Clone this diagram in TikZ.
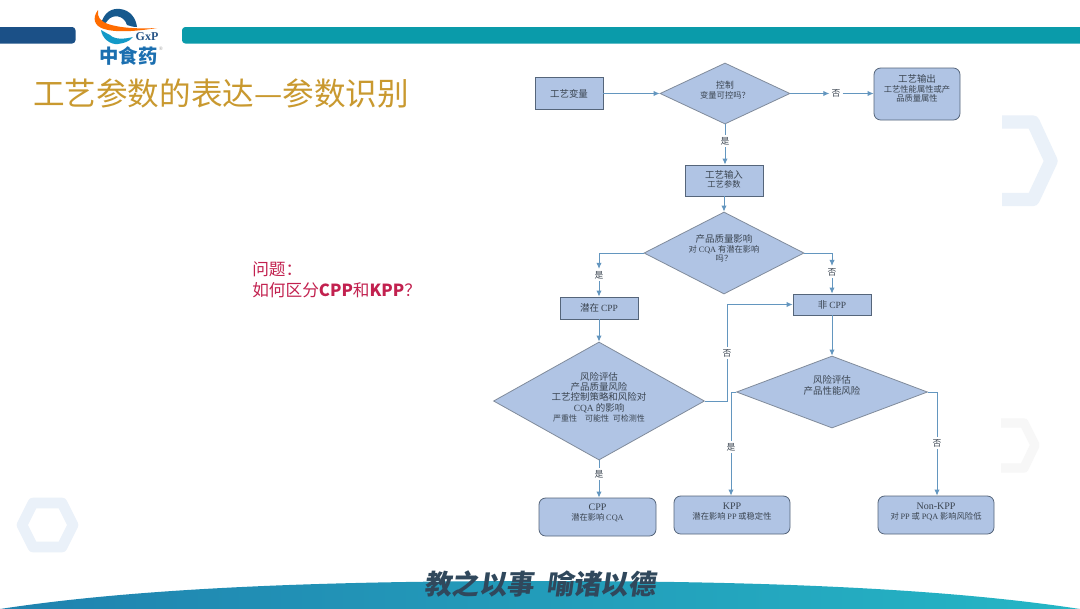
\documentclass[tikz,border=0pt]{standalone}
\usepackage{fontspec}
\setmainfont{Liberation Serif}
\newfontfamily\cjk{Noto Sans CJK SC}
\newfontfamily\cjkslant[FakeSlant=0.14]{Noto Sans CJK SC}
\usetikzlibrary{shapes.geometric,arrows.meta}
\definecolor{boxfill}{HTML}{B0C4E4}
\definecolor{boxline}{HTML}{55657A}
\definecolor{conn}{HTML}{6396BF}
\definecolor{txt}{HTML}{3A4450}
\definecolor{gold}{HTML}{C9992F}
\definecolor{ask}{HTML}{C2214F}
\definecolor{wm}{HTML}{EAF1F9}
\definecolor{logob}{HTML}{1B6FB0}
\def\px{0.75pt}
\newcommand\fsmall{\fontsize{6.2pt}{7.4pt}\selectfont}
\newcommand\flarge{\fontsize{7.1pt}{7.6pt}\selectfont}
\newcommand\latn[1]{{\rmfamily #1}}
\newcommand\liftby[1]{\\[#1]\mbox{}}
\tikzset{
  x=0.75pt,y=-0.75pt,
  base/.style={draw=boxline,fill=boxfill,line width=0.6pt,text=txt,align=center,inner sep=0pt,font=\cjk\fsmall},
  sqbox/.style={base,rectangle},
  rbox/.style={base,rectangle,rounded corners=5pt},
  dec/.style={base,diamond,draw=boxline!75},
  lnk/.style={draw=conn,line width=0.7pt,-{Latex[length=4.5pt,width=4pt]}},
  seg/.style={draw=conn,line width=0.7pt},
  lab/.style={text=txt,inner sep=1.5pt,fill=white,font=\cjk\fontsize{6.6pt}{7.5pt}\selectfont},
}
\begin{document}
\begin{tikzpicture}
\useasboundingbox (0,0) rectangle (1080,608);
\fill[white] (0,0) rectangle (1080,608);
% watermarks
\draw[wm,line width=10pt,line join=round] (1002,122) -- (1033,122) -- (1051,161) -- (1033,199.5) -- (1002,199.5);
\draw[black!3,line width=7pt,line join=round] (1001,423) -- (1024,423) -- (1035,445) -- (1024,468) -- (1001,468);
\draw[wm,line width=8pt,line join=round] (33,503) -- (62,503) -- (73,525) -- (62,547) -- (33,547) -- (22,525) -- cycle;
% header bars
\fill[fill={rgb,255:red,27;green,80;blue,135},rounded corners=2.5pt] (-8,27) rectangle (75.5,43.5);
\fill[fill={rgb,255:red,10;green,155;blue,170},rounded corners=2.5pt] (182,27) rectangle (1090,43.5);
% logo
\fill[logob!80!black] (101,24) .. controls (104,12) and (112,8) .. (120,9) .. controls (130,10) and (136,18) .. (137,27)
  .. controls (133,27) and (130,26) .. (127,25) .. controls (124,15) and (113,14) .. (108,20) .. controls (106,23) and (104,25) .. (101,24) -- cycle;
\fill[logob!70!cyan] (101,30) .. controls (102,38) and (110,45) .. (118,44) .. controls (124,43) and (129,42) .. (133,37)
  .. controls (125,39) and (115,40) .. (110,35) .. controls (106,33) and (103,31) .. (101,30) -- cycle;
\fill[orange!85!red] (98,10) .. controls (92,18) and (94,26) .. (104,29) .. controls (117,33) and (138,31) .. (157,28)
  .. controls (138,29) and (120,28) .. (108,24) .. controls (100,21) and (97,17) .. (98,10) -- cycle;
\node (gxp) at (147,37) [inner sep=0pt,text={rgb,255:red,40;green,85;blue,135},font=\bfseries\fontsize{9pt}{10pt}\selectfont] {GxP};
\node (zsy) at (128.5,56) [inner sep=0pt,text=logob,font=\cjk\bfseries\fontsize{14.5pt}{15pt}\selectfont] {中食药};
\node (reg) at (161,49) [inner sep=0pt,text=black!40,font=\fontsize{4pt}{5pt}\selectfont] {®};
% title
\node (title) at (221,93) [inner sep=0pt,text=gold,font=\cjk\fontsize{23.7pt}{25pt}\selectfont] {工艺参数的表达—参数识别};
% question
\node (q) at (252,280) [anchor=west,inner sep=0pt,align=left,text=ask,font=\cjk\fontsize{12.5pt}{15.5pt}\selectfont] {问题：\\如何区分\textbf{CPP}和\textbf{KPP}？};
% flowchart nodes
\node[sqbox,minimum width=68*\px,minimum height=32*\px,font=\cjk\flarge] (var) at (569,93.5) {工艺变量};
\node[dec,aspect=2.13,minimum width=130*\px,minimum height=61*\px] (d1) at (725,93.5) {\fontsize{6.6pt}{7pt}\selectfont 控制\\变量可控吗？\liftby{-2.2pt}};
\node[rbox,minimum width=86*\px,minimum height=52*\px] (out) at (917,94) {\flarge 工艺输出\\工艺性能属性或产\\品质量属性\liftby{1.5pt}};
\node[sqbox,minimum width=78*\px,minimum height=31*\px] (inp) at (724,180.5) {\flarge 工艺输入\\工艺参数\liftby{-5.2pt}};
\node[dec,aspect=1.95,minimum width=160*\px,minimum height=82*\px] (d2) at (724,253) {\flarge 产品质量影响\\对 \latn{CQA} 有潜在影响\\吗？\liftby{0pt}};
\node[sqbox,minimum width=78*\px,minimum height=22*\px,font=\cjk\flarge] (pcpp) at (599,308) {潜在 \latn{CPP}};
\node[sqbox,minimum width=78*\px,minimum height=21*\px,font=\cjk\flarge] (ncpp) at (832,304.5) {非 \latn{CPP}};
\node[dec,aspect=1.79,minimum width=211*\px,minimum height=118*\px,font=\cjk\flarge] (d3) at (599,401) {风险评估\\产品质量风险\\工艺控制策略和风险对\\\latn{CQA} 的影响\\\fontsize{6pt}{7.5pt}\selectfont 严重性\quad 可能性\ \ 可检测性\liftby{-1.5pt}};
\node[dec,aspect=2.65,minimum width=191*\px,minimum height=72*\px,font=\cjk\flarge] (d4) at (832,392) {风险评估\\产品性能风险\liftby{3pt}};
\node[rbox,minimum width=117*\px,minimum height=38*\px] (cpp) at (597.5,517) {\rmfamily\fontsize{7.5pt}{7.5pt}\selectfont CPP\\潜在影响 \latn{CQA}\liftby{0pt}};
\node[rbox,minimum width=116*\px,minimum height=38*\px] (kpp) at (732,515) {\rmfamily\fontsize{7.5pt}{7.5pt}\selectfont KPP\\潜在影响 \latn{PP} 或稳定性\liftby{-1.5pt}};
\node[rbox,minimum width=116*\px,minimum height=38*\px] (nkpp) at (936,515) {\rmfamily\fontsize{7.5pt}{7.5pt}\selectfont Non-KPP\\对 \latn{PP} 或 \latn{PQA} 影响风险低\liftby{-1.5pt}};
% labels
\node[lab] (l1) at (836,93.5) {否};
\node[lab] (l2) at (725,141) {是};
\node[lab] (l3) at (599,275) {是};
\node[lab] (l4) at (832,272) {否};
\node[lab] (l5) at (727,353) {否};
\node[lab] (l6) at (599,474) {是};
\node[lab] (l7) at (731,447) {是};
\node[lab] (l8) at (937,443) {否};
% connectors
\draw[lnk] (var) -- (d1);
\draw[lnk] (d1) -- (l1);
\draw[lnk] (l1) -- (l1 -| out.west);
\draw[seg] (d1) -- (l2);
\draw[lnk] (l2) -- (l2 |- inp.north);
\draw[lnk] (inp) -- (d2);
\draw[lnk] (d2.west) -| (l3);
\draw[lnk] (l3) -- (pcpp);
\draw[lnk] (d2.east) -| (l4);
\draw[lnk] (l4) -- (ncpp);
\draw[lnk] (pcpp) -- (d3);
\draw[lnk] (ncpp) -- (d4);
\draw[seg] (d3.east) -| (l5);
\draw[lnk] (l5) |- (ncpp);
\draw[seg] (d3) -- (l6);
\draw[lnk] (l6) -- (l6 |- cpp.north);
\draw[seg] (d4.west) -| (l7);
\draw[lnk] (l7) -- (l7 |- kpp.north);
\draw[seg] (d4.east) -| (l8);
\draw[lnk] (l8) -- (l8 |- nkpp.north);
% bottom band
\shade[left color={rgb,255:red,32;green,130;blue,175},right color={rgb,255:red,37;green,182;blue,197}]
  (0,609) .. controls (150,586) and (350,581) .. (540,581) .. controls (730,581) and (930,586) .. (1080,609) -- cycle;
\node (motto) at (540,584) [inner sep=0pt,text={rgb,255:red,48;green,72;blue,92},font=\cjkslant\bfseries\fontsize{20.5pt}{21pt}\selectfont] {教之以事\ \ 喻诸以德};
\end{tikzpicture}
\end{document}
